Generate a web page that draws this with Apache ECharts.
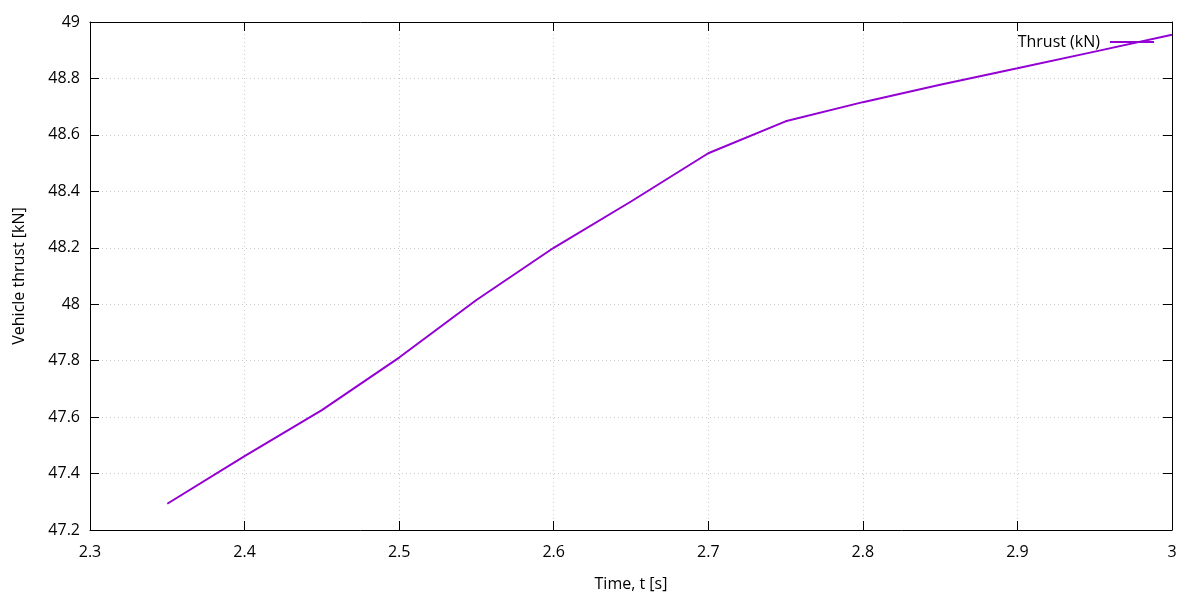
<!DOCTYPE html>
<html>
<head>
<meta charset="utf-8">
<script src="https://cdn.jsdelivr.net/npm/echarts@6/dist/echarts.min.js"></script>
<style>html,body{margin:0;padding:0;background:#fff}#c{width:1200px;height:600px}</style>
</head>
<body>
<div id="c"></div>
<script>
var timeValues = [2.35, 2.40, 2.45, 2.50, 2.55, 2.60, 2.65, 2.70, 2.75, 2.80, 2.85, 2.90, 2.95, 3.00];
var thrustValues = [47.293, 47.462, 47.625, 47.811, 48.015, 48.200, 48.364, 48.535, 48.648, 48.716, 48.778, 48.836, 48.895, 48.955];
var seriesName = 'Thrust (kN)';
var xTickLabels = ['2.3','2.4','2.5','2.6','2.7','2.8','2.9','3'];
var yTickLabels = ['47.2','47.4','47.6','47.8','48','48.2','48.4','48.6','48.8','49'];

var FONT = '"Open Sans", "Noto Sans", sans-serif';
var FS = 16;
var data = timeValues.map(function (t, i) { return [t, thrustValues[i]]; });
var chart = echarts.init(document.getElementById('c'), null, {renderer: 'canvas'});
var axisLine = {show: true, lineStyle: {color: '#000', width: 1}};
var tick = {show: true, inside: true, length: 9, lineStyle: {color: '#000'}};
var split = {show: true, lineStyle: {color: '#cccccc', type: [1, 3], width: 1}};
chart.setOption({
  animation: false,
  backgroundColor: '#fff',
  textStyle: {fontFamily: FONT, fontSize: FS},
  grid: {left: 90, right: 28, top: 22, bottom: 70, containLabel: false, outerBoundsMode: 'none'},
  legend: {
    show: true, right: 46, top: 34, bottom: 'auto', left: 'auto', align: 'right', orient: 'horizontal',
    itemWidth: 44, itemHeight: 2, itemGap: 10, padding: 0,
    textStyle: {fontFamily: FONT, fontSize: FS, color: '#000', padding: [0, 5, 0, 0]},
    data: [{name: seriesName, icon: 'rect'}]
  },
  xAxis: [{
    type: 'value', min: 2.3, max: 3.0, interval: 0.1,
    name: 'Time, t [s]', nameLocation: 'middle', nameGap: 46,
    nameTextStyle: {fontFamily: FONT, fontSize: FS, color: '#000'},
    axisLine: axisLine, axisTick: tick, splitLine: split,
    axisLabel: {margin: 14, fontFamily: FONT, fontSize: FS, color: '#000',
      formatter: function (v) { var i = Math.round((v - 2.3) / 0.1); return xTickLabels[i] || ''; }}
  }, {
    type: 'value', position: 'top', min: 2.3, max: 3.0, interval: 0.1,
    axisLine: axisLine, axisTick: tick, splitLine: {show: false}, axisLabel: {show: false}
  }],
  yAxis: [{
    type: 'value', min: 47.2, max: 49, interval: 0.2,
    name: 'Vehicle thrust [kN]', nameLocation: 'middle', nameGap: 63, nameRotate: 90,
    nameTextStyle: {fontFamily: FONT, fontSize: FS, color: '#000'},
    axisLine: axisLine, axisTick: tick, splitLine: split,
    axisLabel: {margin: 10, fontFamily: FONT, fontSize: FS, color: '#000',
      formatter: function (v) { var i = Math.round((v - 47.2) / 0.2); return yTickLabels[i] || ''; }}
  }, {
    type: 'value', position: 'right', min: 47.2, max: 49, interval: 0.2,
    axisLine: axisLine, axisTick: tick, splitLine: {show: false}, axisLabel: {show: false}
  }],
  series: [{
    name: seriesName, type: 'line', data: data,
    xAxisIndex: 0, yAxisIndex: 0,
    showSymbol: false, symbol: 'none',
    lineStyle: {color: '#9400d3', width: 2},
    itemStyle: {color: '#9400d3'}
  }]
});
</script>
</body>
</html>
